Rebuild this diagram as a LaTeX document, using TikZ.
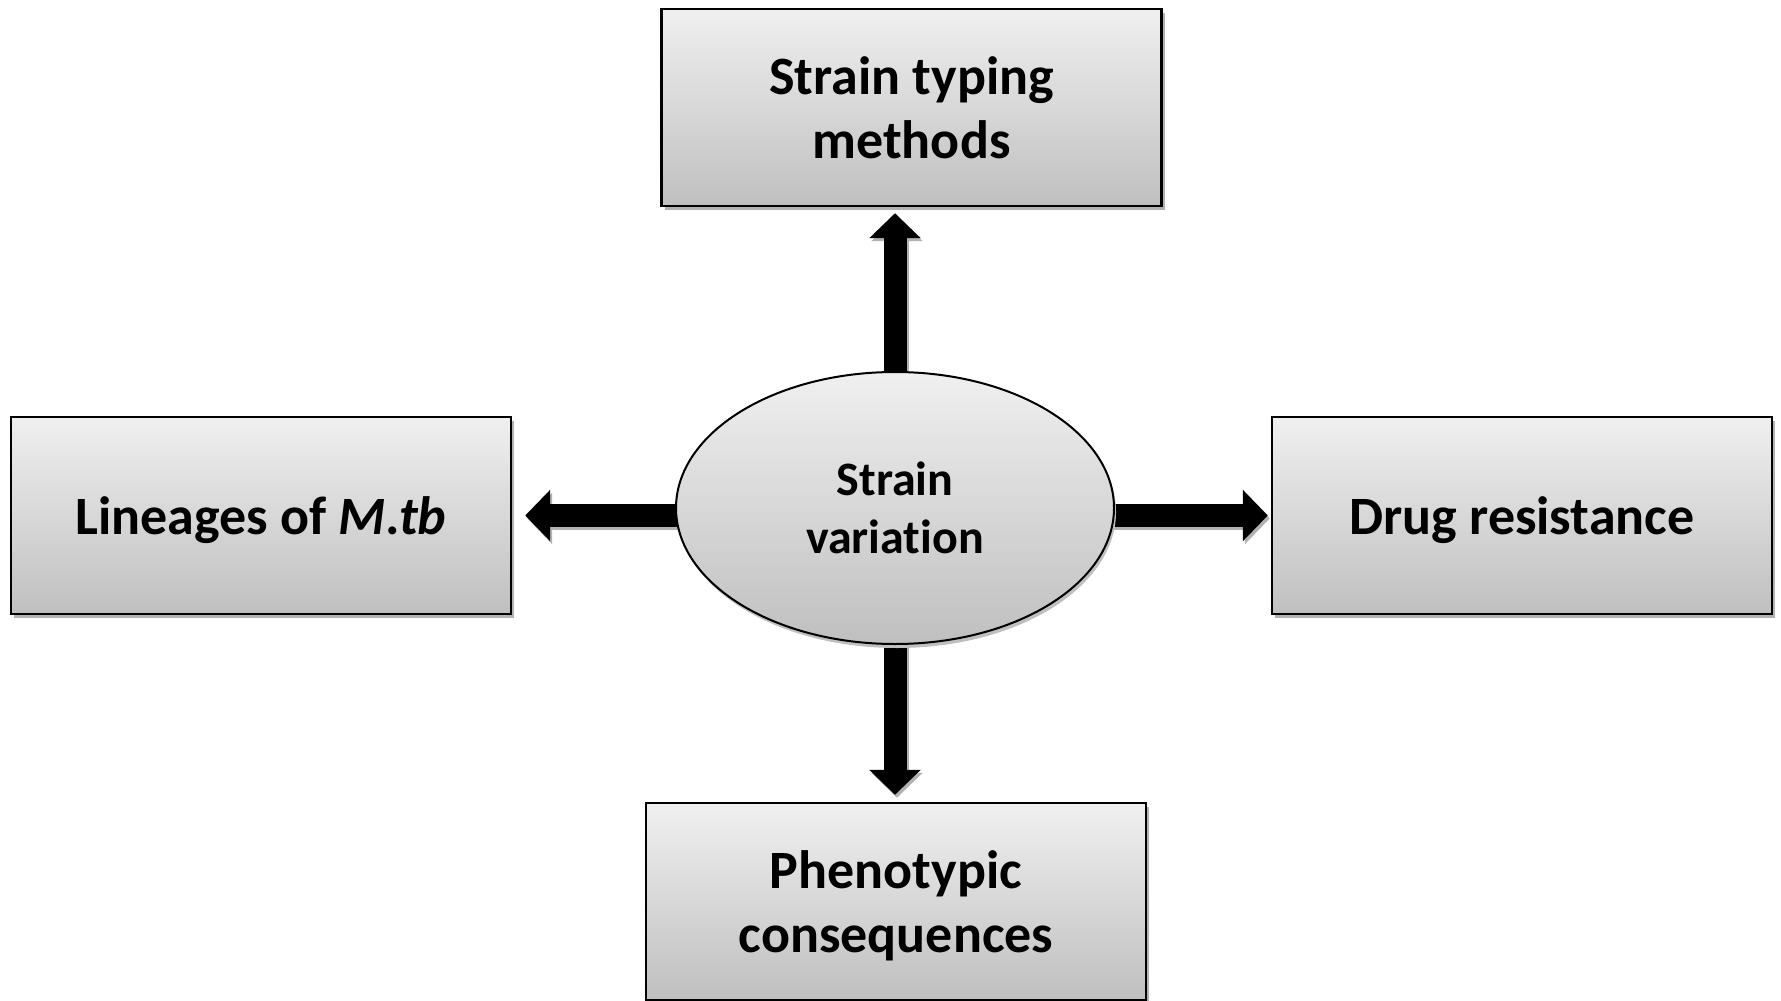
\documentclass[tikz,border=0pt]{standalone}
\usepackage{fontspec}
\setmainfont[Ligatures=NoCommon]{Carlito}
\usetikzlibrary{arrows.meta,shapes.geometric,shadows,calc,backgrounds}
\begin{document}
\begin{tikzpicture}[x=1pt,y=-1pt,
  boxst/.style={draw=black,line width=2.4pt,top color=black!6,bottom color=black!25,
    minimum width=500pt,minimum height=197pt,align=center,inner sep=0pt,
    font=\fontsize{54}{64}\selectfont\bfseries,
    drop shadow={shadow xshift=3pt,shadow yshift=-4pt,fill=black!30,opacity=1}},
  ellst/.style={ellipse,draw=black,line width=2pt,top color=black!6,bottom color=black!25,
    minimum width=438pt,minimum height=272pt,align=center,inner sep=0pt,
    font=\fontsize{48}{58}\selectfont\bfseries,
    drop shadow={shadow xshift=2pt,shadow yshift=-4pt,fill=black!25,opacity=1}},
  fat/.style={line width=23pt,-{Triangle[width=50pt,length=25pt]},shorten <=-12pt,
    preaction={draw=black!30,line width=23pt,transform canvas={xshift=2pt,yshift=-3pt},-{Triangle[width=50pt,length=25pt]}}}
]
\useasboundingbox (0,0) rectangle (1781,1001);
\node[boxst] (top) at (911.5,107.5) {Strain typing\\methods};
\node[boxst,text depth=0pt] (lin) at (261,515.5) {Lineages of \textit{M.tb}};
\node[boxst,text depth=0pt] (drug) at (1522,515.5) {Drug resistance};
\node[boxst,text depth=0pt] (phen) at (896,901.5) {Phenotypic\\consequences};
\node[ellst] (sv) at (895,508) {Strain\\variation};
\begin{pgfonlayer}{background}
\draw[fat,shorten >=6pt] (sv.north) -- (sv.north |- top.south);
\draw[fat,shorten >=13pt] (sv.west |- lin.east) -- (lin.east);
\draw[fat,shorten >=3pt] (sv.east |- drug.west) -- (drug.west);
\draw[fat,shorten >=7pt] (sv.south) -- (sv.south |- phen.north);
\end{pgfonlayer}
\end{tikzpicture}
\end{document}
